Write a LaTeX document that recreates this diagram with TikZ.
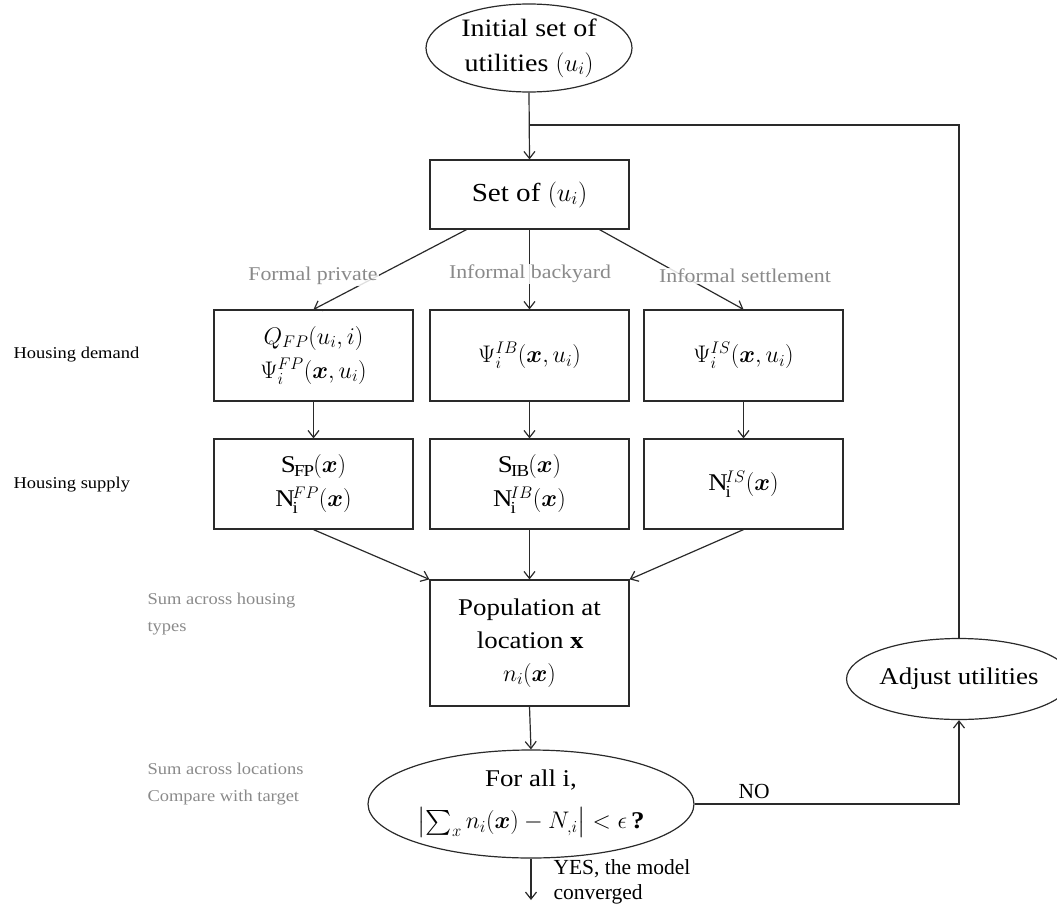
\RequirePackage{fix-cm}
\documentclass[tikz,border=0pt]{standalone}
\usepackage{amsmath}
\usepackage{fontspec}
\setmainfont{Liberation Serif}[FakeStretch=1.12]
\newfontfamily\tnr{Liberation Serif}
\usepackage{bm}
\usetikzlibrary{arrows.meta,shapes.geometric}
\definecolor{lbl}{HTML}{8A8A8A}
\definecolor{ln}{HTML}{2A2A2A}
\tikzset{
  box/.style={draw=ln, line width=1.2pt, rectangle, minimum width=199pt, align=center, inner sep=2pt,
    font=\fontsize{24}{34}\selectfont},
  ell/.style={draw=ln, line width=1.2pt, ellipse, align=center, inner sep=0pt,
    font=\fontsize{24}{34}\selectfont},
  side/.style={anchor=west, align=left, font=\fontsize{16.5}{24}\selectfont},
  grey/.style={text=lbl, anchor=west, align=left, font=\fontsize{16.5}{27}\selectfont},
  arrlbl/.style={text=lbl, fill=white, fill opacity=0.85, text opacity=1, inner sep=1pt,
    font=\fontsize{19.5}{24}\selectfont},
  conn/.style={draw=ln, line width=1.2pt, -{Straight Barb[length=7pt,width=11pt]}},
  plain/.style={draw=ln, line width=1.2pt},
  note/.style={anchor=west, align=left, font=\tnr\fontsize{21.5}{25}\selectfont}
}
\begin{document}
\begin{tikzpicture}[x=1pt,y=-1pt]
\useasboundingbox (0,0) rectangle (1057,915);
% nodes
\node[ell, minimum width=206pt, minimum height=88pt, font=\fontsize{25}{35}\selectfont] (init) at (529,48) {Initial set of\\utilities $(u_i)$};
\node[box, minimum height=69pt, font=\fontsize{26}{30}\selectfont] (set) at (529.5,194.5) {Set of $(u_i)$};

\node[box, minimum height=91pt] (fp) at (313.5,355.5) {$Q_{FP}(u_i,i)$\\$\Psi_i^{FP}(\bm{x},u_i)$};
\node[box, minimum height=91pt] (ib) at (529.5,355.5) {$\Psi_i^{IB}(\bm{x},u_i)$};
\node[box, minimum height=91pt] (is) at (743.5,355.5) {$\Psi_i^{IS}(\bm{x},u_i)$};

\node[box, minimum height=90pt] (sfp) at (313.5,484) {$\mathrm{S}_{\mathrm{FP}}(\bm{x})$\\$\mathrm{N}_{\mathrm{i}}^{FP}(\bm{x})$};
\node[box, minimum height=90pt] (sib) at (529.5,484) {$\mathrm{S}_{\mathrm{IB}}(\bm{x})$\\$\mathrm{N}_{\mathrm{i}}^{IB}(\bm{x})$};
\node[box, minimum height=90pt] (sis) at (743.5,484) {$\mathrm{N}_{\mathrm{i}}^{IS}(\bm{x})$};

\node[box, minimum height=126pt, font=\fontsize{24}{33}\selectfont] (pop) at (529.5,643) {Population at\\location $\mathbf{x}$\\$n_i(\bm{x})$};

\node[ell, minimum width=326pt, minimum height=108pt, font=\fontsize{24}{36}\selectfont] (dec) at (531,804) {For all i,\\[6pt]$\bigl|\textstyle\sum_{x} n_i(\bm{x}) - N_{,i}\bigr| < \epsilon\,\textbf{?}$};

\node[ell, minimum width=194pt, minimum height=81pt] (adj) at (959,679) {Adjust utilities};

\coordinate (j) at (529,125);
\coordinate (yesend) at (531,900);

% side labels
\node[side] (hd) at (10,355) {Housing demand};
\node[side] (hs) at (10,485) {Housing supply};
\node[grey] (sh) at (144,614) {Sum across housing\\types};
\node[grey] (sl) at (144,784) {Sum across locations\\Compare with target};

% connectors
\draw[conn] (init.south) -- (set.north);
\draw[plain] (adj.north) |- (j);
\draw[conn] ([xshift=-63pt]set.south) -- (fp.north);
\draw[conn] (set.south) -- (ib.north);
\draw[conn] ([xshift=70pt]set.south) -- (is.north);
\node[arrlbl] (lfp) at (313,276) {Formal private};
\node[arrlbl] (lib) at (530,274) {Informal backyard};
\node[arrlbl] (lis) at (745,276) {Informal settlement};

\draw[conn] (fp.south) -- (sfp.north);
\draw[conn] (ib.south) -- (sib.north);
\draw[conn] (is.south) -- (sis.north);

\draw[conn] (sfp.south) -- (pop.north west);
\draw[conn] (sib.south) -- (pop.north);
\draw[conn] (sis.south) -- (pop.north east);

\draw[conn] (pop.south) -- (dec.north);
\draw[conn] (dec.east) -| (adj.south);
\node[note] (no) at (735,791) {NO};
\draw[conn] (dec.south) -- (yesend);
\node[note] (yes) at (550,882) {YES, the model\\converged};
\end{tikzpicture}
\end{document}
